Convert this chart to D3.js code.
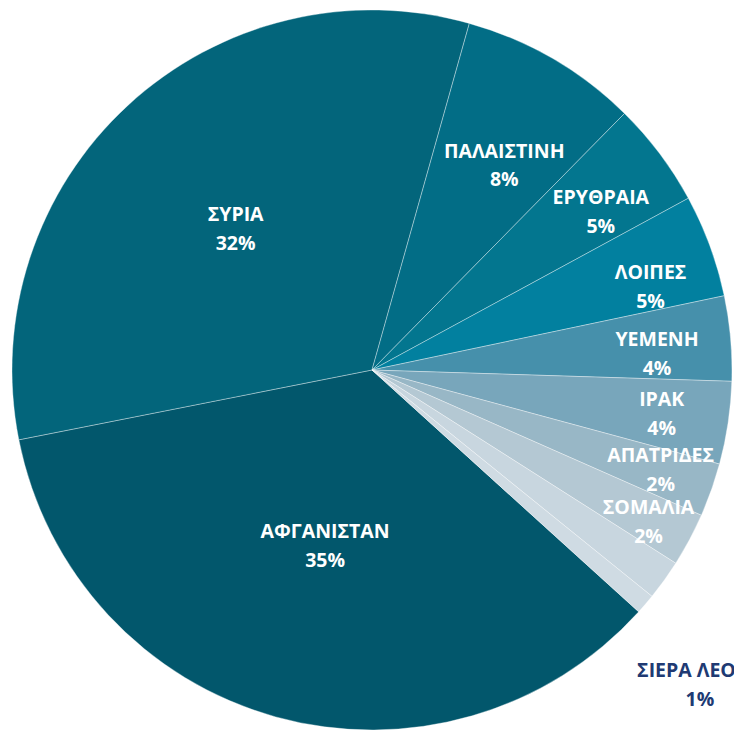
<!DOCTYPE html>
<html>
<head>
<meta charset="utf-8">
<script src="https://cdn.jsdelivr.net/npm/d3@7"></script>
<style>
  html, body { margin: 0; padding: 0; background: #ffffff; }
  svg { display: block; }
</style>
</head>
<body>
<svg id="chart" width="734" height="731"></svg>
<script>
// ---- data ----
const categories = ["ΑΦΓΑΝΙΣΤΑΝ", "ΣΥΡΙΑ", "ΠΑΛΑΙΣΤΙΝΗ", "ΕΡΥΘΡΑΙΑ", "ΛΟΙΠΕΣ", "ΥΕΜΕΝΗ", "ΙΡΑΚ", "ΑΠΑΤΡΙΔΕΣ", "ΣΟΜΑΛΙΑ", "ΑΛΛΗ", "ΣΙΕΡΑ ΛΕΟΝΕ"];
const values = [35.1, 32.4, 8.0, 4.7, 4.6, 3.8, 3.7, 2.4, 2.4, 1.8, 0.9];
const showLabel = [true, true, true, true, true, true, true, true, true, false, true];
const outsideLabel = [false, false, false, false, false, false, false, false, false, false, true];
const colors = ["#02576c", "#03657b", "#026d86", "#03768f", "#02809f", "#4690ab", "#78a6bb", "#98b7c6", "#b4c8d3", "#c8d6df", "#cfdbe3"];

// label placement (style): radius as fraction of R, angular shift in degrees
const labelRadiusFrac = [0.506, 0.544, 0.676, 0.772, 0.807, 0.793, 0.814, 0.849, 0.877, 0.8, 1.264];
const labelAngleShift = [-0.6, -1.4, 2.8, 2.4, 3.7, 1.9, 0.2, -0.3, 0.7, 0, 1.7];

// ---- layout ----
const width = 734, height = 731;
const cx = 372, cy = 370, R = 360;
const startDeg = 132.2;

const svg = d3.select("#chart");
const g = svg.append("g").attr("transform", `translate(${cx},${cy})`);

const data = categories.map((c, i) => ({ i, name: c, value: values[i], color: colors[i], show: showLabel[i], outside: outsideLabel[i] }));

const pie = d3.pie()
  .sort(null)
  .value(d => d.value)
  .startAngle(startDeg * Math.PI / 180)
  .endAngle(startDeg * Math.PI / 180 + 2 * Math.PI);

const arcs = pie(data);
const arc = d3.arc().innerRadius(0).outerRadius(R);

g.selectAll("path.slice")
  .data(arcs)
  .join("path")
  .attr("class", "slice")
  .attr("d", arc)
  .attr("fill", d => d.data.color)
  .attr("stroke", "rgba(255,255,255,0.45)")
  .attr("stroke-width", 0.8)
  .attr("stroke-linejoin", "round");

const fontFamily = "'Open Sans', 'DejaVu Sans', sans-serif";
const fontSize = 19.5;
const total = d3.sum(values);
const deg = Math.PI / 180;

arcs.filter(d => d.data.show).forEach(d => {
  const i = d.data.i;
  let ang, fill;
  if (d.data.outside) {
    ang = d.endAngle + labelAngleShift[i] * deg;
    fill = "#203a73";
  } else {
    ang = (d.startAngle + d.endAngle) / 2 + labelAngleShift[i] * deg;
    fill = "#ffffff";
  }
  const r = labelRadiusFrac[i] * R;
  const x = r * Math.sin(ang);
  const y = -r * Math.cos(ang);
  const t = g.append("text")
    .attr("x", x)
    .attr("y", y)
    .attr("text-anchor", "middle")
    .attr("font-family", fontFamily)
    .attr("font-weight", 700)
    .attr("font-size", fontSize)
    .attr("fill", fill);
  t.append("tspan").attr("x", x).attr("dy", "-0.42em").text(d.data.name);
  t.append("tspan").attr("x", x).attr("dy", "1.48em").text(Math.round(d.data.value / total * 100) + "%");
});
</script>
</body>
</html>
